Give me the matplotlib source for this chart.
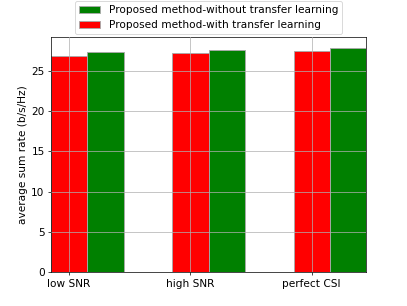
# average sum rate comparison, with / without transfer learning

import numpy as np
import matplotlib
matplotlib.use("Agg")
import matplotlib.pyplot as plt
plt.rcParams["font.size"] = 11.8

scenarios = ["low SNR", "high SNR", "perfect CSI"]
rate_with_tl = [26.8, 27.2, 27.45]
rate_without_tl = [27.3, 27.55, 27.8]

x = np.arange(len(scenarios))
w = 0.3

fig = plt.figure(figsize=(407/64, 306/64), dpi=64)
ax = fig.add_subplot(111)
b1 = ax.bar(x, rate_with_tl, w, color="red", edgecolor="darkgray")
b2 = ax.bar(x + w, rate_without_tl, w, color="green", edgecolor="darkgray")
ax.grid(True, color="#b0b0b0")
ax.set_axisbelow(False)
ax.set_xticks(x)
ax.set_xticklabels(scenarios)
ax.set_xlim(-w/2, x[-1] + 1.5*w)
ax.set_ylabel("average sum rate (b/s/Hz)")
ax.legend([b2, b1], ["Proposed method-without transfer learning",
                     "Proposed method-with transfer learning"],
          loc="upper center", bbox_to_anchor=(0.5, 1.175))

plt.savefig("out.png", dpi=64)
